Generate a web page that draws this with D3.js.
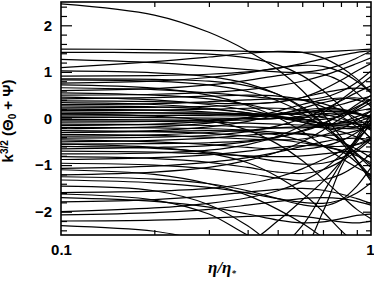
<!DOCTYPE html>
<html>
<head>
<meta charset="utf-8">
<script src="https://cdn.jsdelivr.net/npm/d3@7"></script>
<style>
  body { margin: 0; background: #fff; }
  svg { display: block; }
  .tick text { font-family: "Liberation Sans", Arial, sans-serif; font-weight: bold; font-size: 15px; fill: #000; }
  .tick line { stroke: #000; stroke-width: 1.2; }
</style>
</head>
<body>
<script>
const etaSamples = [0.1, 0.2, 0.3, 0.4, 0.5, 0.6, 0.7, 0.8, 0.9, 1.0];

// k^{3/2}(Theta_0 + Psi) for each mode, read at etaSamples
const modes = [
  [2.46, 2.22, 1.85, 1.45, 1.05, 0.60, 0.10, -0.40, -0.90, -1.35],
  [1.49, 1.48, 1.46, 1.44, 1.43, 1.42, 1.43, 1.45, 1.47, 1.49],
  [1.42, 1.41, 1.38, 1.30, 1.15, 0.92, 0.60, 0.25, -0.10, -0.45],
  [1.27, 1.20, 1.12, 1.05, 1.00, 0.99, 1.05, 1.15, 1.30, 1.45],
  [1.09, 1.22, 1.32, 1.40, 1.44, 1.42, 1.30, 1.10, 0.85, 0.55],
  [1.02, 0.98, 0.90, 0.75, 0.52, 0.22, -0.12, -0.45, -0.75, -1.00],
  [0.91, 0.92, 0.95, 1.00, 1.08, 1.18, 1.28, 1.36, 1.42, 1.45],
  [0.85, 0.84, 0.80, 0.70, 0.52, 0.25, -0.10, -0.50, -0.90, -1.25],
  [0.83, 0.80, 0.72, 0.58, 0.38, 0.12, -0.18, -0.48, -0.78, -1.05],
  [0.76, 0.80, 0.88, 0.98, 1.08, 1.14, 1.12, 1.00, 0.80, 0.55],
  [0.72, 0.65, 0.50, 0.28, 0.02, -0.28, -0.58, -0.85, -1.05, -1.20],
  [0.66, 0.62, 0.55, 0.48, 0.42, 0.40, 0.45, 0.58, 0.78, 1.02],
  [0.60, 0.64, 0.72, 0.82, 0.92, 0.98, 0.95, 0.80, 0.55, 0.25],
  [0.55, 0.50, 0.42, 0.30, 0.15, 0.00, -0.12, -0.20, -0.22, -0.18],
  [0.50, 0.52, 0.56, 0.62, 0.70, 0.80, 0.92, 1.05, 1.18, 1.30],
  [0.46, 0.40, 0.30, 0.18, 0.05, -0.08, -0.18, -0.22, -0.18, -0.05],
  [0.42, 0.45, 0.48, 0.50, 0.48, 0.40, 0.25, 0.05, -0.18, -0.42],
  [0.38, 0.36, 0.33, 0.32, 0.35, 0.45, 0.62, 0.82, 1.02, 1.18],
  [0.34, 0.30, 0.22, 0.12, 0.02, -0.08, -0.15, -0.15, -0.08, 0.05],
  [0.30, 0.32, 0.36, 0.40, 0.42, 0.40, 0.32, 0.18, 0.00, -0.22],
  [0.27, 0.25, 0.20, 0.12, 0.04, -0.02, -0.02, 0.05, 0.18, 0.35],
  [0.23, 0.24, 0.26, 0.30, 0.36, 0.45, 0.55, 0.62, 0.65, 0.62],
  [0.20, 0.18, 0.14, 0.08, 0.02, -0.05, -0.10, -0.12, -0.10, -0.05],
  [0.17, 0.18, 0.20, 0.22, 0.22, 0.18, 0.10, 0.00, -0.12, -0.25],
  [0.14, 0.12, 0.10, 0.08, 0.08, 0.12, 0.20, 0.30, 0.40, 0.48],
  [0.11, 0.12, 0.12, 0.10, 0.05, -0.02, -0.10, -0.16, -0.18, -0.15],
  [0.10, 0.05, -0.05, -0.25, -0.55, -0.90, -1.30, -1.65, -1.95, -2.15],
  [0.08, 0.07, 0.06, 0.06, 0.08, 0.12, 0.15, 0.15, 0.10, 0.02],
  [0.05, 0.06, 0.08, 0.10, 0.10, 0.08, 0.02, -0.06, -0.12, -0.14],
  [0.02, 0.02, 0.01, 0.00, 0.00, 0.02, 0.05, 0.10, 0.16, 0.22],
  [-0.02, -0.03, -0.04, -0.03, 0.00, 0.05, 0.10, 0.12, 0.10, 0.04],
  [-0.05, -0.06, -0.08, -0.10, -0.12, -0.14, -0.14, -0.10, -0.02, 0.08],
  [-0.08, -0.06, -0.03, 0.02, 0.08, 0.14, 0.18, 0.18, 0.12, 0.02],
  [-0.12, -0.13, -0.15, -0.18, -0.20, -0.20, -0.16, -0.08, 0.04, 0.16],
  [-0.15, -0.12, -0.06, 0.02, 0.10, 0.18, 0.22, 0.20, 0.12, 0.00],
  [-0.19, -0.20, -0.22, -0.25, -0.30, -0.34, -0.36, -0.34, -0.26, -0.14],
  [-0.22, -0.18, -0.10, 0.02, 0.16, 0.30, 0.40, 0.44, 0.40, 0.30],
  [-0.26, -0.28, -0.32, -0.38, -0.45, -0.52, -0.58, -0.60, -0.56, -0.46],
  [-0.30, -0.28, -0.26, -0.28, -0.35, -0.48, -0.60, -0.70, -0.95, -1.30],
  [-0.30, -0.26, -0.18, -0.06, 0.08, 0.22, 0.34, 0.42, 0.44, 0.40],
  [-0.34, -0.36, -0.40, -0.44, -0.46, -0.44, -0.36, -0.22, -0.04, 0.16],
  [-0.38, -0.35, -0.30, -0.25, -0.20, -0.18, -0.20, -0.28, -0.40, -0.55],
  [-0.42, -0.40, -0.36, -0.28, -0.16, 0.00, 0.18, 0.38, 0.56, 0.70],
  [-0.46, -0.50, -0.56, -0.62, -0.66, -0.66, -0.60, -0.48, -0.30, -0.08],
  [-0.50, -0.47, -0.42, -0.36, -0.32, -0.32, -0.38, -0.50, -0.66, -0.84],
  [-0.55, -0.54, -0.52, -0.48, -0.40, -0.28, -0.12, 0.08, 0.30, 0.50],
  [-0.55, -0.62, -0.75, -0.95, -1.25, -1.60, -2.00, -2.40, -2.70, -2.90],
  [-0.60, -0.64, -0.72, -0.82, -0.92, -0.98, -0.96, -0.85, -0.65, -0.40],
  [-0.65, -0.62, -0.58, -0.50, -0.40, -0.26, -0.10, 0.08, 0.25, 0.40],
  [-0.70, -0.72, -0.76, -0.80, -0.82, -0.80, -0.76, -0.72, -0.70, -0.72],
  [-0.76, -0.74, -0.68, -0.56, -0.38, -0.15, 0.12, 0.40, 0.66, 0.90],
  [-0.82, -0.86, -0.94, -1.05, -1.15, -1.18, -1.10, -0.92, -0.70, -0.45],
  [-0.88, -0.84, -0.78, -0.70, -0.62, -0.58, -0.60, -0.68, -0.80, -0.95],
  [-0.96, -1.00, -1.08, -1.18, -1.28, -1.34, -1.32, -1.20, -1.00, -0.75],
  [-1.07, -1.02, -0.94, -0.84, -0.72, -0.60, -0.50, -0.44, -0.42, -0.46],
  [-1.10, -1.20, -1.40, -1.65, -1.95, -2.25, -2.55, -2.80, -2.95, -3.00],
  [-1.21, -1.15, -1.05, -0.90, -0.72, -0.50, -0.25, 0.00, 0.22, 0.40],
  [-1.25, -1.30, -1.40, -1.55, -1.72, -1.85, -1.88, -1.75, -1.45, -1.05],
  [-1.32, -1.38, -1.48, -1.60, -1.72, -1.80, -1.82, -1.75, -1.60, -1.38],
  [-1.45, -1.55, -1.85, -2.30, -2.75, -2.80, -2.00, -1.05, -0.45, 0.00],
  [-1.59, -1.56, -1.50, -1.40, -1.26, -1.08, -0.88, -0.70, -0.55, -0.45],
  [-1.62, -1.75, -2.05, -2.50, -2.75, -2.30, -1.60, -0.95, -0.40, 0.10],
  [-1.70, -1.78, -1.90, -2.05, -2.18, -2.24, -2.22, -2.15, -2.08, -2.05],
  [-1.79, -1.74, -1.66, -1.58, -1.52, -1.50, -1.54, -1.62, -1.72, -1.82],
  [-2.00, -1.92, -1.82, -1.70, -1.55, -1.35, -1.10, -0.78, -0.45, -0.12],
  [-2.07, -2.02, -1.95, -1.86, -1.78, -1.72, -1.70, -1.72, -1.78, -1.86],
  [-2.20, -2.18, -2.14, -2.10, -2.08, -2.10, -2.16, -2.22, -2.24, -2.20],
  [-2.30, -2.42, -2.62, -2.65, -2.20, -1.75, -1.35, -0.92, -0.50, -0.10]
];

const yMajorTicks = [-2, -1, 0, 1, 2];
const yMinorTicks = d3.range(-24, 25, 2).map(d => d / 10).filter(d => !yMajorTicks.includes(d));
const xMajorTicks = [0.1, 1];
const xMinorTicks = [0.2, 0.3, 0.4, 0.5, 0.6, 0.7, 0.8, 0.9];
const xTickLabels = ["0.1", "1"];

const width = 374, height = 281;
const margin = { top: 2, right: 3, bottom: 46, left: 61 };
const innerWidth = width - margin.left - margin.right;
const innerHeight = height - margin.top - margin.bottom;

const svg = d3.select("body").append("svg")
    .attr("width", width)
    .attr("height", height);

const g = svg.append("g")
    .attr("transform", `translate(${margin.left},${margin.top})`);

const x = d3.scaleLog().domain([0.1, 1]).range([0, innerWidth]);
const y = d3.scaleLinear().domain([-2.5, 2.5]).range([innerHeight, 0]);

g.append("clipPath").attr("id", "plot-clip")
  .append("rect")
    .attr("width", innerWidth)
    .attr("height", innerHeight);

const line = d3.line()
    .x((d, i) => x(etaSamples[i]))
    .y(d => y(d))
    .curve(d3.curveCatmullRom.alpha(0.5));

g.append("g")
    .attr("clip-path", "url(#plot-clip)")
  .selectAll("path")
  .data(modes).enter()
  .append("path")
    .attr("d", line)
    .attr("fill", "none")
    .attr("stroke", "#000")
    .attr("stroke-width", 1.2);

// axes: ticks point into the plot
g.append("g").call(d3.axisLeft(y).tickValues(yMajorTicks).tickSize(-11).tickPadding(9)
    .tickFormat(d => d < 0 ? "\u2212" + Math.abs(d) : d));
g.append("g").call(d3.axisLeft(y).tickValues(yMinorTicks).tickSize(-6).tickFormat(""));
g.append("g").attr("transform", `translate(${innerWidth},0)`)
    .call(d3.axisRight(y).tickValues(yMajorTicks).tickSize(-8).tickFormat(""));
g.append("g").attr("transform", `translate(${innerWidth},0)`)
    .call(d3.axisRight(y).tickValues(yMinorTicks).tickSize(-5).tickFormat(""));

const xAxis = g.append("g").attr("transform", `translate(0,${innerHeight})`)
    .call(d3.axisBottom(x).tickValues(xMajorTicks).tickSize(0).tickPadding(9)
      .tickFormat((d, i) => xTickLabels[i]));
xAxis.selectAll(".tick text").filter(d => d === 1).attr("text-anchor", "end").attr("dx", 3);
g.append("g").attr("transform", `translate(0,${innerHeight})`)
    .call(d3.axisBottom(x).tickValues(xMinorTicks).tickSize(-5).tickFormat(""));
g.append("g")
    .call(d3.axisTop(x).tickValues(xMinorTicks).tickSize(-5).tickFormat(""));

g.selectAll(".domain").remove();

g.append("rect")
    .attr("width", innerWidth)
    .attr("height", innerHeight)
    .attr("fill", "none")
    .attr("stroke", "#000")
    .attr("stroke-width", 1.6);

// axis titles
const xTitle = svg.append("text")
    .attr("x", 222)
    .attr("y", 273)
    .attr("text-anchor", "middle")
    .style("font-family", "'Liberation Serif', 'DejaVu Serif', serif")
    .style("font-style", "italic")
    .style("font-weight", "bold")
    .style("font-size", "17px");
xTitle.append("tspan").text("\u03b7/\u03b7");
xTitle.append("tspan").attr("dy", 3).style("font-size", "9px").text("*");

const yTitle = svg.append("text")
    .attr("transform", "translate(13,121) rotate(-90)")
    .attr("text-anchor", "middle")
    .style("font-family", "'Liberation Sans', Arial, sans-serif")
    .style("font-weight", "bold")
    .style("font-size", "15px");
yTitle.append("tspan").text("k");
yTitle.append("tspan").attr("dy", -5).style("font-size", "10px").text("3/2");
yTitle.append("tspan").attr("dy", 5).text(" (\u0398");
yTitle.append("tspan").attr("dy", 3).style("font-size", "10px").text("0");
yTitle.append("tspan").attr("dy", -3).text(" + \u03a8)");
</script>
</body>
</html>
